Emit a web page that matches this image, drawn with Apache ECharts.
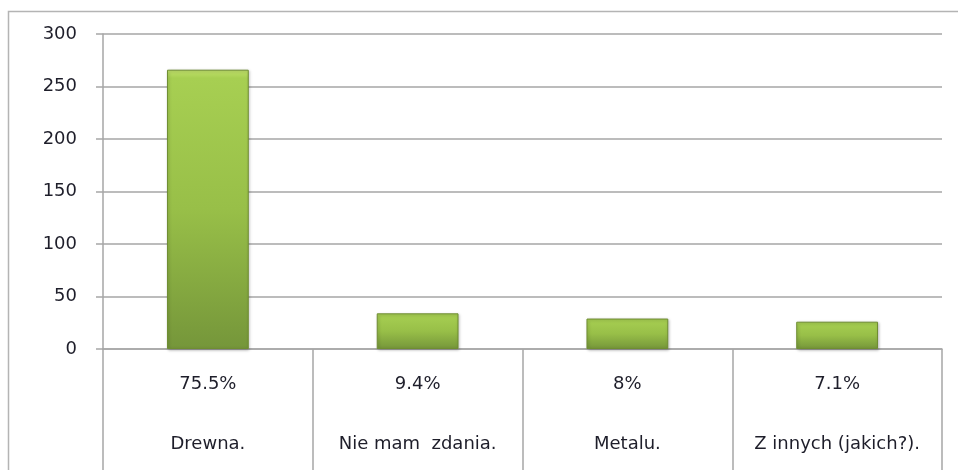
<!DOCTYPE html>
<html>
<head>
<meta charset="utf-8">
<script src="https://cdn.jsdelivr.net/npm/echarts@6/dist/echarts.min.js"></script>
<style>
  html, body { margin: 0; padding: 0; background: #fff; }
  #chart { width: 958px; height: 470px; }
</style>
</head>
<body>
<div id="chart"></div>
<script>
// Data
const categories = ['Drewna.', 'Nie mam  zdania.', 'Metalu.', 'Z innych (jakich?).'];
const percents = ['75.5%', '9.4%', '8%', '7.1%'];
const counts = [266, 34, 29, 26];
const yTicks = { min: 0, max: 300, step: 50 };

const gridColor = '#a6a6a6';
const textColor = '#1e1e2a';
const font = 'DejaVu Sans';

const chart = echarts.init(document.getElementById('chart'));

chart.setOption({
    animation: false,
    graphic: [{
        // outer frame (only top and left edges are in view)
        type: 'polyline',
        shape: { points: [[8.5, 480], [8.5, 11.5], [970, 11.5]] },
        style: { fill: 'none', stroke: '#b4b4b4', lineWidth: 1.5 },
        silent: true
    }],
    grid: { left: 103, right: 16, top: 34, bottom: 121 },
    xAxis: {
        type: 'category',
        data: categories,
        axisLine: { lineStyle: { color: gridColor, width: 1.5 } },
        axisTick: { show: true, length: 125, interval: 0, lineStyle: { color: gridColor, width: 1.5 } },
        axisLabel: {
            interval: 0,
            margin: 5,
            formatter: (val, i) => '{p|' + percents[i] + '}\n{n|' + val + '}',
            rich: {
                p: { fontFamily: font, fontSize: 18, color: textColor, lineHeight: 60 },
                n: { fontFamily: font, fontSize: 18, color: textColor, lineHeight: 60 }
            }
        }
    },
    yAxis: {
        type: 'value',
        min: yTicks.min,
        max: yTicks.max,
        interval: yTicks.step,
        axisLine: { show: true, lineStyle: { color: gridColor, width: 1.5 } },
        axisTick: { show: true, length: 7, lineStyle: { color: gridColor, width: 1.5 } },
        splitLine: { lineStyle: { color: gridColor, width: 1.5 } },
        axisLabel: { margin: 26, fontFamily: font, fontSize: 18, color: textColor }
    },
    series: [{
        type: 'bar',
        data: counts,
        barWidth: '39%',
        itemStyle: {
            color: new echarts.graphic.LinearGradient(0, 0, 0, 1, [
                { offset: 0, color: '#c2e26c' },
                { offset: 0.03, color: '#a7cf52' },
                { offset: 0.5, color: '#98bf48' },
                { offset: 1, color: '#75963a' }
            ]),
            borderColor: '#6f8d32',
            borderWidth: 1,
            shadowColor: 'rgba(0,0,0,0.25)',
            shadowBlur: 3,
            shadowOffsetX: 1,
            shadowOffsetY: 1
        }
    }]
});
</script>
</body>
</html>
